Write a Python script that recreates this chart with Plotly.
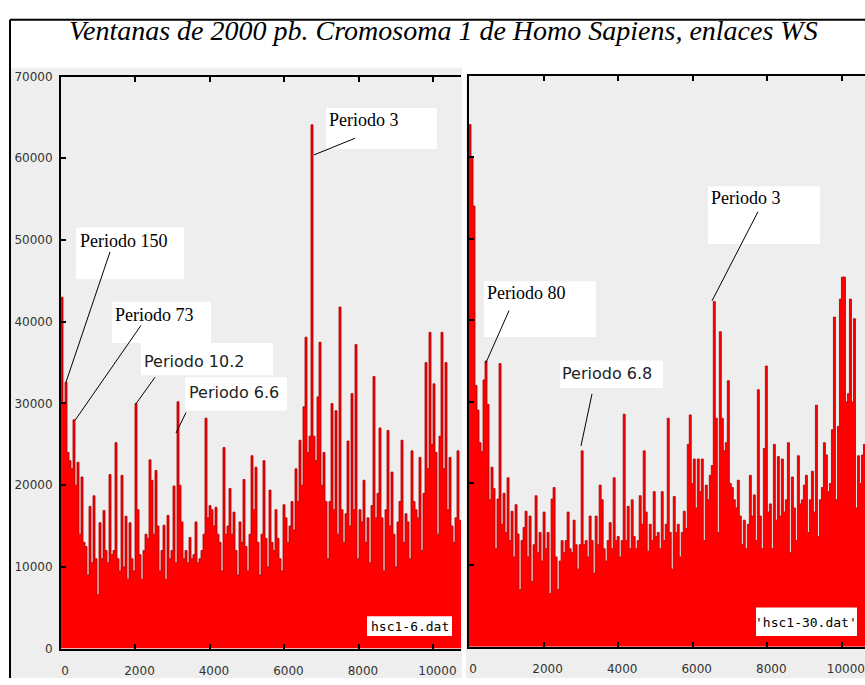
import numpy as np
import plotly.graph_objects as go

W, H = 865, 685

# ---------------- data (values in thousands) ----------------
STEP = 53.7  # width of one sample bin in x units

left_k = [43, 30, 32.6, 24, 23, 22, 28, 20, 22.8, 14,
          21, 13, 12.5, 9, 17.4, 10.5, 18.7, 11, 6.6, 15.4,
          11, 16.9, 12, 10.5, 21.3, 11.5, 12, 25.2, 11, 9.5,
          21.2, 10, 16.2, 8.5, 15.4, 11, 9.5, 30, 17, 11.5,
          8.5, 12, 14, 13.5, 23.1, 20.6, 14, 21.8, 15, 9.5,
          12, 15.1, 8.5, 16.3, 11, 12, 19.9, 10.5, 30.2, 20,
          15.5, 11, 12, 10.5, 13.6, 11, 11.5, 15.5, 10.5, 11,
          12, 14, 28.2, 16, 17.5, 17, 15, 17.3, 14, 13,
          9.5, 24.6, 14, 15, 19.6, 14, 16.7, 12, 9, 15.5,
          13, 20.7, 12.5, 9.5, 14, 23.6, 17, 22.2, 13, 9,
          14, 23, 13.5, 10, 19.4, 13, 12, 17, 13.5, 11,
          9.5, 17.6, 16, 13, 15, 18, 14.5, 22, 18, 25.5,
          20, 29.6, 38.1, 24, 26, 64.1, 26, 23, 30.8, 37.5,
          20, 24, 18, 11, 18, 30, 17, 29.1, 14, 41.8,
          17, 13, 16.5, 25.4, 15, 31.2, 17, 37.2, 11, 17,
          15.5, 20.6, 13, 16, 10.5, 17.5, 33.3, 16, 19, 27,
          16, 9.5, 17, 26.7, 15, 21.6, 14, 10, 15.5, 18,
          25.5, 13, 16.5, 15.5, 11, 24.2, 18, 17, 16, 23.4,
          12, 19, 35, 22, 38.7, 25, 32.4, 24, 14, 26,
          38.7, 22, 35, 17, 23.4, 15, 13, 16, 24.2, 15.7]

right_k = [64, 60, 54, 32, 29, 25, 23.9, 32.7, 35, 29.7,
           18, 22, 19.4, 12, 18.1, 34.7, 15, 18.8, 14, 20.7,
           13, 16.6, 11, 17.4, 13.8, 7, 13, 14.6, 16.6, 11,
           16, 8, 12.5, 18.5, 11.5, 14, 10.5, 16.5, 12, 14,
           6.5, 18.1, 19.5, 11, 7, 10.5, 13, 11.5, 13, 16.5,
           12, 11.5, 15.5, 12.5, 9.5, 12.5, 24, 12.5, 13, 11,
           16, 13, 9, 16, 12.5, 19.8, 18, 12, 10.5, 13,
           15.2, 12, 20.7, 13, 13.5, 11, 13, 28.5, 13, 17.2,
           12, 18, 13.5, 12, 13, 18.5, 15, 24, 16.5, 11.7,
           15, 13, 19, 13.5, 14, 12, 19, 13, 15, 28,
           14, 9.5, 18.4, 14, 15, 11, 14, 16.6, 14.5, 24.8,
           28.4, 20, 23, 17, 23, 19, 23, 13, 19.8, 18,
           21, 22.2, 42.3, 28, 14, 38.6, 28, 24, 25, 32.6,
           20, 19.5, 18, 17, 20.4, 16, 12.5, 15.5, 12, 15,
           21, 16, 18.6, 13, 31.5, 16, 12, 24.3, 34.4, 16.5,
           17.5, 12, 24.8, 15.5, 23.3, 16, 23, 16.5, 18, 25,
           11.5, 20.8, 17, 13, 23.4, 17.5, 18, 19.8, 21, 14,
           18, 21.5, 16.5, 29.6, 13.5, 18, 19.5, 25, 23.5, 19,
           20, 26.6, 40.4, 18, 27, 42.6, 45.3, 45.3, 30, 31,
           42.6, 30, 40.2, 17, 23.4, 20, 23.5, 24.8, 19]

x_ticks = [0, 2000, 4000, 6000, 8000, 10000]
y_ticks = [0, 10000, 20000, 30000, 40000, 50000, 60000, 70000]

labels_left = ["Periodo 150", "Periodo 73", "Periodo 10.2", "Periodo 6.6", "Periodo 3"]
labels_right = ["Periodo 80", "Periodo 6.8", "Periodo 3"]
file_left = "hsc1-6.dat"
file_right = "'hsc1-30.dat'"
title = "Ventanas de 2000 pb. Cromosoma 1 de Homo Sapiens, enlaces WS"


def series(vals_k):
    y = np.array(vals_k, dtype=float) * 1000
    y = np.append(y, y[-1])
    x = np.arange(len(y)) * STEP
    return x, y


def X(px):
    return px / W


def Y(py):
    return 1 - py / H


xl, yl = series(left_k)
xr, yr = series(right_k)

fig = go.Figure()
for x, y, xa, ya in [(xl, yl, "x", "y"), (xr, yr, "x2", "y2")]:
    fig.add_trace(go.Scatter(
        x=x, y=y, mode="lines", xaxis=xa, yaxis=ya,
        line=dict(color="#a80000", width=0.8, shape="hv"),
        fill="tozeroy", fillcolor="#ff0000", hoverinfo="skip", showlegend=False))

tickfont = dict(family="DejaVu Sans", size=12, color="#333333")
axis_common = dict(showgrid=False, zeroline=False, showline=True, linecolor="black",
                   linewidth=2, ticks="inside", ticklen=5, tickwidth=2, tickcolor="black",
                   tickfont=tickfont, tickformat="d")

fig.update_layout(
    width=W, height=H, margin=dict(l=0, r=0, t=0, b=0),
    paper_bgcolor="white", plot_bgcolor="#efefef", showlegend=False,
    xaxis=dict(domain=[X(61), X(461)], range=[0, 10740], anchor="y",
               tickvals=x_ticks, mirror="ticks", ticklabelshift=4,
               ticklabelstandoff=10, **axis_common),
    yaxis=dict(domain=[Y(655), Y(71)], range=[0, 70000], anchor="x",
               tickvals=y_ticks, ticklabelstandoff=4, **axis_common),
    xaxis2=dict(domain=[X(469), 1], range=[0, 10620], anchor="y2",
                tickvals=x_ticks, mirror="ticks", ticklabelshift=4,
                ticklabelstandoff=10, **axis_common),
    yaxis2=dict(domain=[Y(653), Y(70)], range=[0, 70000], anchor="x2",
                tickvals=y_ticks, showticklabels=False, **axis_common),
)

shapes = []
# grey panel backgrounds
shapes.append(dict(type="rect", xref="paper", yref="paper", x0=X(11), x1=X(462),
                   y0=0, y1=Y(62), fillcolor="#eeeeee", line=dict(width=0), layer="below"))
shapes.append(dict(type="rect", xref="paper", yref="paper", x0=X(466), x1=1,
                   y0=0, y1=Y(70), fillcolor="#eeeeee", line=dict(width=0), layer="below"))
# outer frame
shapes.append(dict(type="line", xref="paper", yref="paper", x0=X(10), x1=1, y0=Y(13), y1=Y(13),
                   line=dict(color="black", width=2)))
shapes.append(dict(type="line", xref="paper", yref="paper", x0=X(10), x1=X(10), y0=0, y1=Y(13),
                   line=dict(color="black", width=2)))

boxes = [(76, 225, 184, 278), (112, 301, 211, 343), (141, 343, 273, 376), (185, 378, 287, 412),
         (326, 103, 437, 145), (484, 280, 596, 337), (560, 361, 663, 389), (708, 183, 820, 242),
         (367, 622, 452, 642), (756, 613, 857, 642)]
for x0, y0, x1, y1 in boxes:
    shapes.append(dict(type="rect", xref="paper", yref="paper", x0=X(x0), x1=X(x1),
                       y0=Y(y1), y1=Y(y0), fillcolor="white", line=dict(width=0), layer="above"))

leaders = [(110, 250, 66, 383), (141, 325, 75, 422), (155, 378, 136, 405), (186, 414, 176, 435),
           (355, 134, 314, 151), (509, 310, 486, 363), (592, 395, 581, 448), (758, 209, 712, 300)]
for x0, y0, x1, y1 in leaders:
    shapes.append(dict(type="line", xref="paper", yref="paper", x0=X(x0), y0=Y(y0),
                       x1=X(x1), y1=Y(y1), line=dict(color="black", width=1), layer="above"))

fig.update_layout(shapes=shapes)

serif = dict(family="Liberation Serif", size=18, color="black")
sans = dict(family="DejaVu Sans", size=16, color="#222222")
mono = dict(family="DejaVu Sans Mono", size=13, color="black")

texts = [
    (labels_left[0], 78, 227, serif), (labels_left[1], 113, 302, serif),
    (labels_left[2], 142, 350, sans), (labels_left[3], 187, 382, sans),
    (labels_left[4], 327, 103, serif), (labels_right[0], 485, 280, serif),
    (labels_right[1], 560, 362, sans), (labels_right[2], 709, 183, serif),
]
ann = []
for t, px, py, f in texts:
    ann.append(dict(text=t, x=X(px), y=Y(py), xref="paper", yref="paper", xanchor="left",
                    yanchor="top", showarrow=False, font=f))
ann.append(dict(text=file_left, x=X(410), y=Y(632), xref="paper", yref="paper",
                xanchor="center", yanchor="middle", showarrow=False, font=mono))
ann.append(dict(text=file_right, x=X(806), y=Y(628), xref="paper", yref="paper",
                xanchor="center", yanchor="middle", showarrow=False, font=mono))
ann.append(dict(text=title, x=X(444), y=Y(24), xref="paper", yref="paper", showarrow=False,
                xanchor="center", yanchor="middle",
                font=dict(family="Liberation Serif", size=28, color="black", style="italic")))
fig.update_layout(annotations=ann)

fig.write_html("out.html")
